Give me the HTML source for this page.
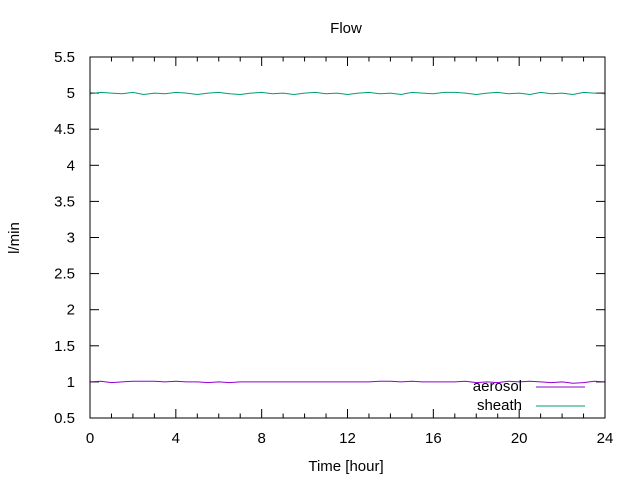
<!DOCTYPE html>
<html><head><meta charset="utf-8"><style>
body{margin:0;background:#fff;}
svg{display:block;font-family:"Liberation Sans",sans-serif;}
</style></head><body>
<svg id="chart" width="640" height="480" xmlns="http://www.w3.org/2000/svg">
<text x="346" y="33" font-size="15" text-anchor="middle">Flow</text>
<text x="19" y="238" font-size="15" text-anchor="middle" transform="rotate(-90 19 238)">l/min</text>
<text x="346" y="471" font-size="15" text-anchor="middle">Time [hour]</text>
<g id="axes"></g>
<g id="series"></g>
<rect x="90" y="57" width="515" height="361" fill="none" stroke="#000" stroke-width="1"/>
<g>
<text x="522" y="391" font-size="15" text-anchor="end">aerosol</text>
<line x1="536" y1="387" x2="585" y2="387" stroke="#9400d3" stroke-width="1"/>
<text x="522" y="410" font-size="15" text-anchor="end">sheath</text>
<line x1="536" y1="406" x2="585" y2="406" stroke="#009e73" stroke-width="1"/>
</g>
</svg>
<script>
const xTicks=[0,4,8,12,16,20,24];
const yTicks=[0.5,1,1.5,2,2.5,3,3.5,4,4.5,5,5.5];
const yTickLabels=["0.5","1","1.5","2","2.5","3","3.5","4","4.5","5","5.5"];
const times=[0,0.5,1,1.5,2,2.5,3,3.5,4,4.5,5,5.5,6,6.5,7,7.5,8,8.5,9,9.5,10,10.5,11,11.5,12,12.5,13,13.5,14,14.5,15,15.5,16,16.5,17,17.5,18,18.5,19,19.5,20,20.5,21,21.5,22,22.5,23,23.5,24];
const sheath=[4.99,5.01,5.00,4.99,5.01,4.98,5.00,4.99,5.01,5.00,4.98,5.00,5.01,4.99,4.98,5.00,5.01,4.99,5.00,4.98,5.00,5.01,4.99,5.00,4.98,5.00,5.01,4.99,5.00,4.98,5.01,5.00,4.99,5.01,5.01,5.00,4.98,5.00,5.01,4.99,5.00,4.98,5.01,4.99,5.00,4.98,5.01,5.00,4.99];
const aerosol=[1.00,1.01,0.99,1.00,1.01,1.01,1.01,1.00,1.01,1.00,1.00,0.99,1.00,0.99,1.00,1.00,1.00,1.00,1.00,1.00,1.00,1.00,1.00,1.00,1.00,1.00,1.00,1.01,1.01,1.00,1.01,1.00,1.00,1.00,1.00,1.01,0.99,1.00,0.99,1.01,1.00,1.01,1.00,0.99,1.00,0.98,0.99,1.01,1.00];
const NS="http://www.w3.org/2000/svg";
const X0=90,X1=605,Y0=418,Y1=57;
function xs(v){return X0+(v-0)/24*(X1-X0);}
function ys(v){return Y0-(v-0.5)/5*(Y0-Y1);}
const axes=document.getElementById('axes');
function mk(tag,attrs,parent){const e=document.createElementNS(NS,tag);for(const k in attrs)e.setAttribute(k,attrs[k]);parent.appendChild(e);return e;}
for(let h=0;h<=24;h++){
  const major=h%4===0,len=major?9:4.5,x=xs(h);
  let t=mk('line',{x1:x,y1:Y0,x2:x,y2:Y0-len,stroke:'#000'},axes);
  
  
  t=mk('line',{x1:x,y1:Y1,x2:x,y2:Y1+len,stroke:'#000'},axes);
  
  
}
xTicks.forEach(v=>{
  const t=mk('text',{x:xs(v),y:443,'font-size':15,'text-anchor':'middle'},axes);
  t.textContent=String(v);
  
  
});
yTicks.forEach((v,i)=>{
  const y=ys(v);
  let t=mk('line',{x1:X0,y1:y,x2:X0+9,y2:y,stroke:'#000'},axes);
  
  
  t=mk('line',{x1:X1,y1:y,x2:X1-9,y2:y,stroke:'#000'},axes);
  
  
  const l=mk('text',{x:75,y:y+5,'font-size':15,'text-anchor':'end'},axes);
  l.textContent=yTickLabels[i];
  
  
});
const series=document.getElementById('series');
function line(vals,color,name){
  const d=vals.map((v,i)=>(i?'L':'M')+xs(times[i]).toFixed(1)+' '+ys(v).toFixed(1)).join(' ');
  const p=mk('path',{d:d,fill:'none',stroke:color,'stroke-width':1},series);
  
  
}
line(aerosol,'#9400d3','aerosol-line');
line(sheath,'#009e73','sheath-line');
</script>
</body></html>
